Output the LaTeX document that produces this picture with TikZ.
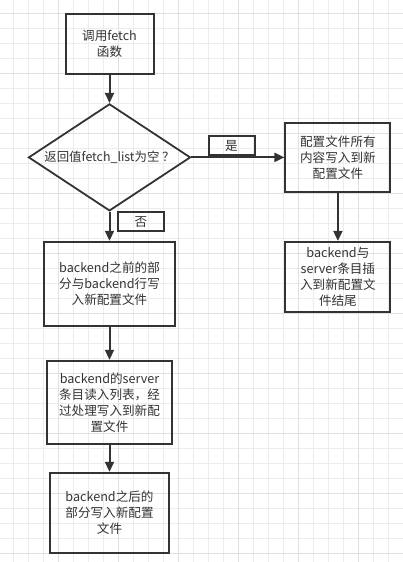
\documentclass[tikz,border=0pt]{standalone}
\usepackage{fontspec}
\setmainfont{Noto Sans CJK SC}
\usetikzlibrary{shapes.geometric, arrows.meta, positioning}

\definecolor{ink}{HTML}{333333}
\definecolor{gridlo}{HTML}{ECECEC}
\definecolor{gridhi}{HTML}{E0E0E0}

\begin{document}
\begin{tikzpicture}[
	x=1pt, y=1pt,
	box/.style={draw=ink, line width=2pt, text=ink, align=center, inner sep=2pt,
		font=\fontsize{12.6}{16}\selectfont},
	cond/.style={diamond, draw=ink, line width=1.8pt, text=ink, inner sep=0pt, shape aspect=1.5,
		minimum width=162pt, minimum height=107pt, font=\fontsize{12.4}{16}\selectfont},
	tag/.style={draw=ink, line width=2pt, text=ink, inner sep=0pt,
		minimum width=46pt, minimum height=19pt, font=\fontsize{12.6}{16}\selectfont},
	flow/.style={->, draw=ink, line width=2pt},
	>={Triangle[length=10pt, width=9pt]}
	]
	\useasboundingbox (0,0) rectangle (403,562);
	% background grid
	\begin{scope}
	\clip (0,0) rectangle (403,562);
	\draw[gridlo, line width=1pt, shift={(13.3,8.7)}] (-15,-15) grid[step=15pt] (405,570);
	\draw[gridhi, line width=1pt, shift={(58.3,8.7)}] (-60,-60) grid[step=60pt] (405,570);
	\end{scope}
	
	\node[box, minimum width=88pt, minimum height=60pt] (call) at (109.5,518) {调用fetch\\函数};
	\node[cond] (empty) [below=28pt of call] {返回值fetch\_list为空 ？};
	\node[box, minimum width=131pt, minimum height=84pt] (before) [below=29pt of empty]
	{backend之前的部\\分与backend行写\\入新配置文件};
	\node[box, minimum width=125pt, minimum height=83pt] (servers) [below=33pt of before]
	{backend的server\\条目读入列表，经\\过处理写入到新配\\置文件};
	\node[box, minimum width=119pt, minimum height=80pt] (after) [below=27pt of servers]
	{backend之后的\\部分写入新配置\\文件};
	
	\node[box, minimum width=105pt, minimum height=69pt] (whole) [right=93pt of empty]
	{配置文件所有\\内容写入到新\\配置文件};
	\node[box, minimum width=105pt, minimum height=70pt] (append) [below=48pt of whole]
	{backend与\\server条目插\\入到新配置文\\件结尾};
	
	\node[tag] (yes) at (231.5,416) {是};
	\node[tag] (no) at (141,340) {否};
	
	\draw[flow] (call) -- (empty);
	\draw[flow] (empty) -- (whole);
	\draw[flow] (empty) -- (before);
	\draw[flow] (before) -- (servers);
	\draw[flow] (servers) -- (after);
	\draw[flow] (whole) -- (append);
\end{tikzpicture}
\end{document}
